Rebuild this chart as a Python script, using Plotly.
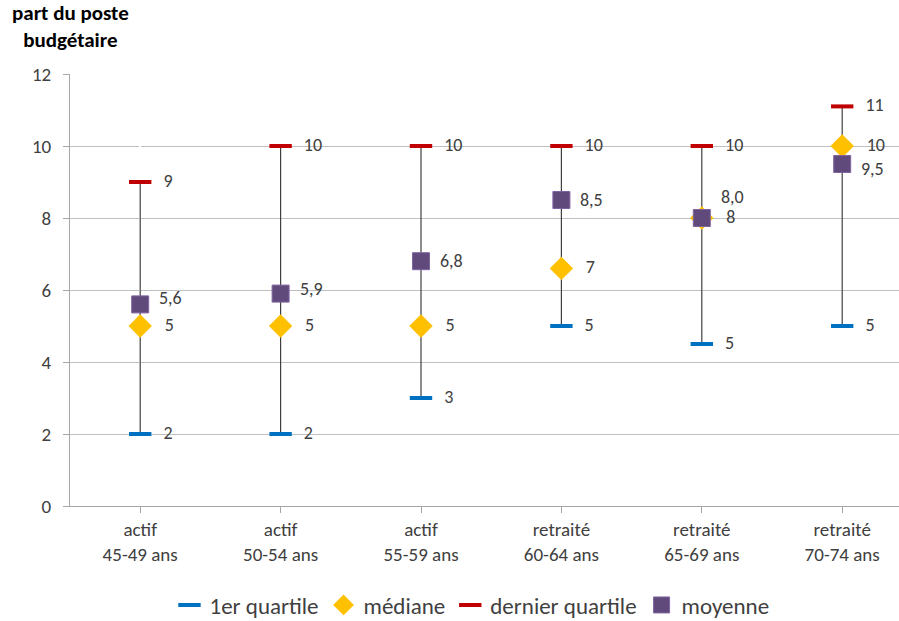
import plotly.graph_objects as go

categories = ["actif<br>45-49 ans", "actif<br>50-54 ans", "actif<br>55-59 ans",
              "retraité<br>60-64 ans", "retraité<br>65-69 ans", "retraité<br>70-74 ans"]
q1 = [2, 2, 3, 5, 4.5, 5]
q1_labels = ["2", "2", "3", "5", "5", "5"]
mediane = [5, 5, 5, 6.6, 8, 10]
mediane_labels = ["5", "5", "5", "7", "8", "10"]
q3 = [9, 10, 10, 10, 10, 11.1]
q3_labels = ["9", "10", "10", "10", "10", "11"]
moyenne = [5.6, 5.9, 6.8, 8.5, 8.0, 9.5]
moyenne_labels = ["5,6", "5,9", "6,8", "8,5", "8,0", "9,5"]
moyenne_label_shift = [6, 5, 0, 0, 21, -5]

x = list(range(len(categories)))
FONT = "Carlito, Calibri, Lato, sans-serif"
TXT = "#404040"
lab_font = dict(family=FONT, size=18, color=TXT)
TT = "   %{text}"

fig = go.Figure()

# high-low line (from first to last quartile)
fig.add_trace(go.Scatter(
    x=x, y=q3, mode="markers", marker=dict(size=0.1, color="rgba(0,0,0,0)"),
    error_y=dict(type="data", symmetric=False, array=[0] * len(x),
                 arrayminus=[h - l for h, l in zip(q3, q1)],
                 color="#404040", thickness=1.2, width=0),
    showlegend=False, hoverinfo="skip"))

fig.add_trace(go.Scatter(
    x=x, y=q1, mode="markers+text", name="1er quartile",
    marker=dict(symbol="line-ew", size=16, line=dict(color="#0070C0", width=4)),
    text=q1_labels, texttemplate=TT, textposition="middle right", textfont=lab_font))

fig.add_trace(go.Scatter(
    x=x, y=q3, mode="markers+text", name="dernier quartile",
    marker=dict(symbol="line-ew", size=16, line=dict(color="#C00000", width=4)),
    text=q3_labels, texttemplate=TT, textposition="middle right", textfont=lab_font))

fig.add_trace(go.Scatter(
    x=x, y=mediane, mode="markers+text", name="médiane",
    marker=dict(symbol="diamond", size=18, color="#FFC000", line=dict(width=0)),
    text=mediane_labels, texttemplate=TT, textposition="middle right", textfont=lab_font))

fig.add_trace(go.Scatter(
    x=x, y=moyenne, mode="markers", name="moyenne",
    marker=dict(symbol="square", size=17, color="#604A7B", line=dict(color="#8064A2", width=1))))

annotations = [dict(text="<b>part du poste<br>budgétaire</b>", xref="paper", yref="paper",
                    x=0.001, y=1.045, xanchor="center", yanchor="bottom", showarrow=False,
                    font=dict(family=FONT, size=21, color="#000000"), align="center")]
for xi, yi, lab, sh in zip(x, moyenne, moyenne_labels, moyenne_label_shift):
    annotations.append(dict(x=xi, y=yi, xref="x", yref="y", text=lab, showarrow=False,
                            xanchor="left", yanchor="middle", xshift=17, yshift=sh,
                            font=lab_font))

fig.update_layout(
    width=899, height=621,
    margin=dict(l=70, r=0, t=74, b=115),
    paper_bgcolor="white", plot_bgcolor="white",
    font=dict(family=FONT, color=TXT),
    legend=dict(orientation="h", xref="container", yref="container",
                x=0.525, xanchor="center", y=16 / 621, yanchor="middle",
                font=dict(family=FONT, size=23, color=TXT), traceorder="normal",
                itemwidth=30),
    xaxis=dict(tickmode="array", tickvals=x, ticktext=categories,
               range=[-0.5, -0.5 + 829 / 140.4],
               showline=True, linecolor="#A6A6A6", linewidth=1,
               ticks="outside", tickson="boundaries", ticklen=6, tickcolor="#A6A6A6",
               showgrid=False, tickfont=dict(family=FONT, size=19, color=TXT)),
    yaxis=dict(range=[0, 12], dtick=2, showline=True, linecolor="#A6A6A6", linewidth=1,
               ticks="outside", ticklen=6, tickcolor="#A6A6A6",
               showgrid=True, gridcolor="#BFBFBF", gridwidth=1,
               zeroline=False, tickfont=dict(family=FONT, size=19, color=TXT),
               ticklabelstandoff=8),
    annotations=annotations,
)

# legend order: 1er quartile, médiane, dernier quartile, moyenne
fig.data[1].legendrank = 1
fig.data[3].legendrank = 2
fig.data[2].legendrank = 3
fig.data[4].legendrank = 4

fig.write_html("out.html", config={"displayModeBar": False},
               post_script="document.body.style.margin='0';")
